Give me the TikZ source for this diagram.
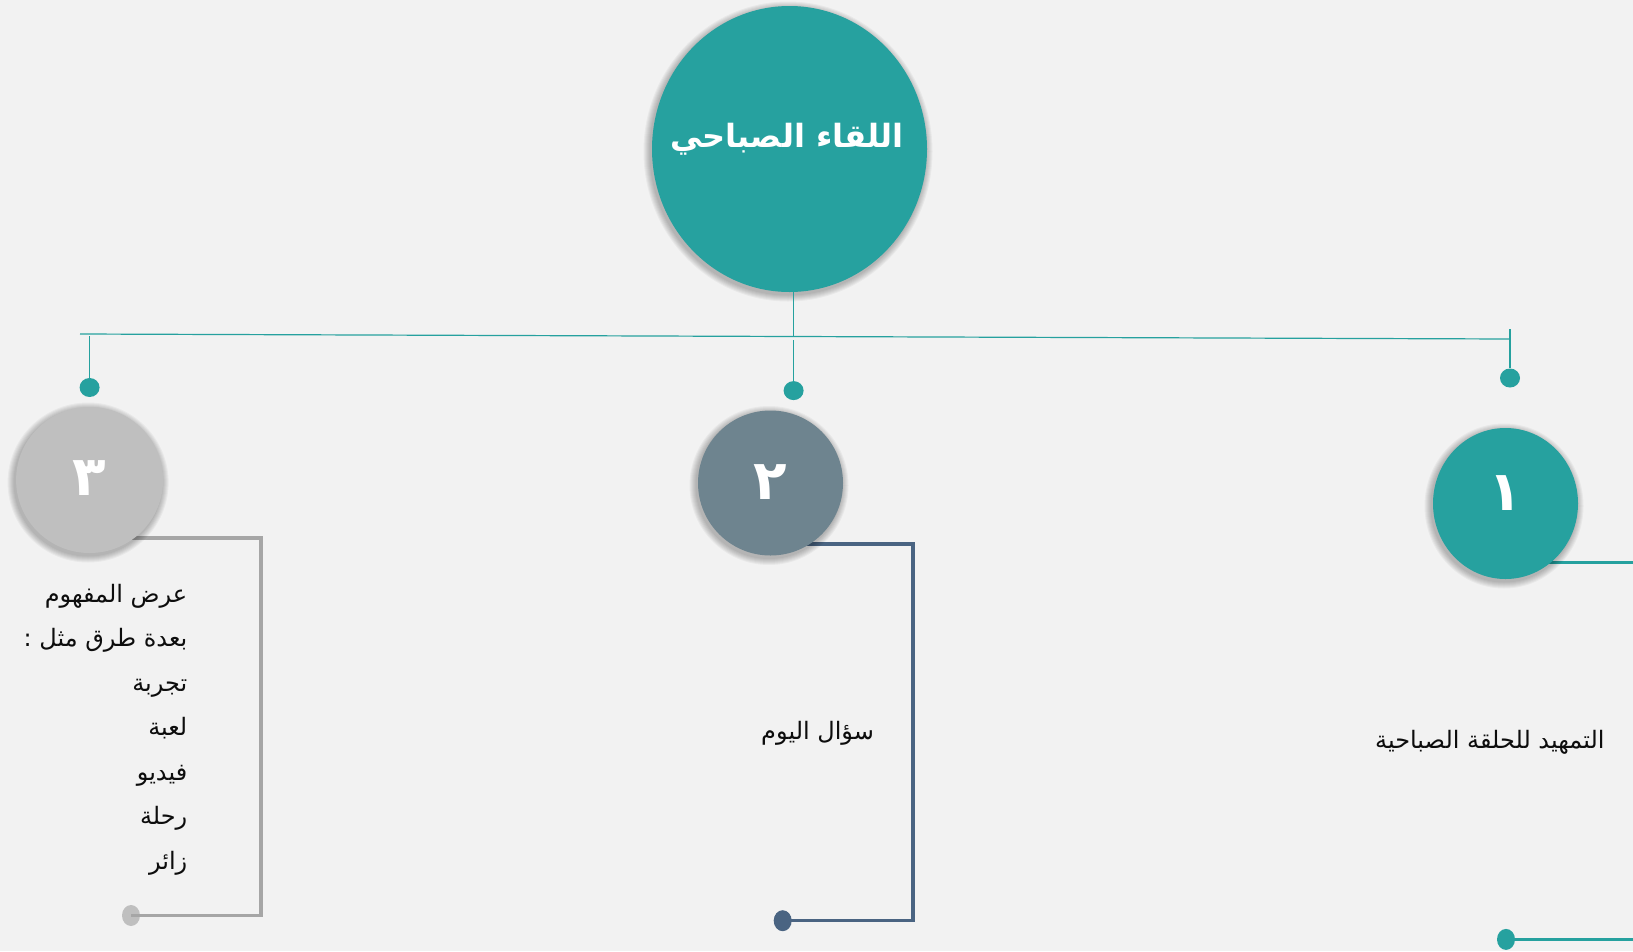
\documentclass[tikz,border=0pt]{standalone}
\usepackage{fontspec}
\usetikzlibrary{shapes.geometric}
\TeXXeTstate=1
\newfontfamily\arabicfont[Script=Arabic]{DejaVu Sans}
\definecolor{bg}{HTML}{F2F2F2}
\definecolor{teal}{HTML}{26A19F}
\definecolor{slate}{HTML}{6E848F}
\definecolor{slateline}{HTML}{4A6482}
\definecolor{lgray}{HTML}{BFBFBF}
\definecolor{mgray}{HTML}{A6A6A6}
\definecolor{txt}{HTML}{0D0D0D}
\newcommand{\softshade}[4]{% x, y, rx, ry
  \foreach \k in {1,...,7}{
    \fill[black, opacity=0.04] (#1-1.5,#2+2.5) ellipse [x radius={#3+\k}, y radius={#4+\k}];
  }}
\tikzset{
  bubble/.style={ellipse, inner sep=0pt},
  numtext/.style={text=white, inner sep=0pt, font=\arabicfont\bfseries\fontsize{55}{55}\selectfont},
  tdot/.style={ellipse, fill=teal, minimum width=20pt, minimum height=19pt, inner sep=0pt},
  edot/.style={ellipse, minimum width=18pt, minimum height=21pt, inner sep=0pt},
  tree/.style={draw=teal, line width=1.2pt},
  bracket/.style={line width=3.2pt, line cap=butt, line join=miter},
  body/.style={font=\arabicfont\fontsize{24}{44.5}\selectfont, text=txt, inner sep=0pt}
}
\begin{document}
\begin{tikzpicture}[x=1pt,y=-1pt]
\useasboundingbox[fill=bg] (0,0) rectangle (1633,951);

% tree lines
\coordinate (hl) at (80,334);
\coordinate (hr) at (1510,339);
\coordinate (t1) at (1510,329);
\draw[tree] (hl) -- (hr);

% top dots
\node[tdot] (d3) at (89.6,387.5) {};
\node[tdot] (d2) at (793.6,390.6) {};
\node[tdot] (d1) at (1510,378) {};

\draw[tree] (d3.center |- 0,336) -- (d3.north);
\draw[tree] (d2.center |- 0,340) -- (d2.north);
\draw[tree] (t1) -- (d1.north);

% end dots
\node[edot, fill=lgray] (e3) at (131,915.5) {};
\node[edot, fill=slateline] (e2) at (782.7,920.7) {};
\node[edot, fill=teal] (e1) at (1506,939.4) {};

% brackets (drawn under circles)
\draw[bracket, mgray] (89.6,480) ++(0,58) -| (261,915.5) -- (e3.center);
\draw[bracket, slateline] (770.5,483) ++(0,61) -| (913,920.7) -- (e2.center);
\draw[bracket, teal] (1505.5,503.5) ++(0,59) -- (1645,562.5);
\draw[bracket, teal] (e1.center) -- (1645,939.4);

% soft shadows
\softshade{789.5}{149}{137.5}{143}
\softshade{89.6}{480}{73.5}{73}
\softshade{770.5}{483}{72.5}{72.5}
\softshade{1505.5}{503.5}{72.5}{75.5}

% title circle
\node[bubble, fill=teal, minimum width=275pt, minimum height=286pt] (c0) at (789.5,149) {};
\node[text=white, font=\arabicfont\bfseries\fontsize{32}{32}\selectfont] (title) at (787,139) {\beginR اللقاء الصباحي\endR};
\draw[tree] (c0.south -| d2.center) -- (d2.center |- 0,336);

% number circles
\node[bubble, fill=lgray, minimum width=147pt, minimum height=146pt] (c3) at (89.6,480) {};
\node[bubble, fill=slate, minimum width=145pt, minimum height=145pt] (c2) at (770.5,483) {};
\node[bubble, fill=teal, minimum width=145pt, minimum height=151pt] (c1) at (1505.5,503.5) {};
\node[numtext] (n3) at (89.6,478) {٣};
\node[numtext] (n2) at (770.5,482) {٢};
\node[numtext] (n1) at (1505.5,493) {١};

% texts
\node[body, anchor=north east, align=right] (t3) at (187.5,584) {%
\beginR عرض المفهوم\endR\\
\beginR بعدة طرق مثل :\endR\\
\beginR تجربة\endR\\
\beginR لعبة\endR\\
\beginR فيديو\endR\\
\beginR رحلة\endR\\
\beginR زائر\endR};
\node[body] (t2) at (817.6,733) {\beginR سؤال اليوم\endR};
\node[body, anchor=west] (t1txt) at (1375,742) {\beginR التمهيد للحلقة الصباحية\endR};
\end{tikzpicture}
\end{document}
